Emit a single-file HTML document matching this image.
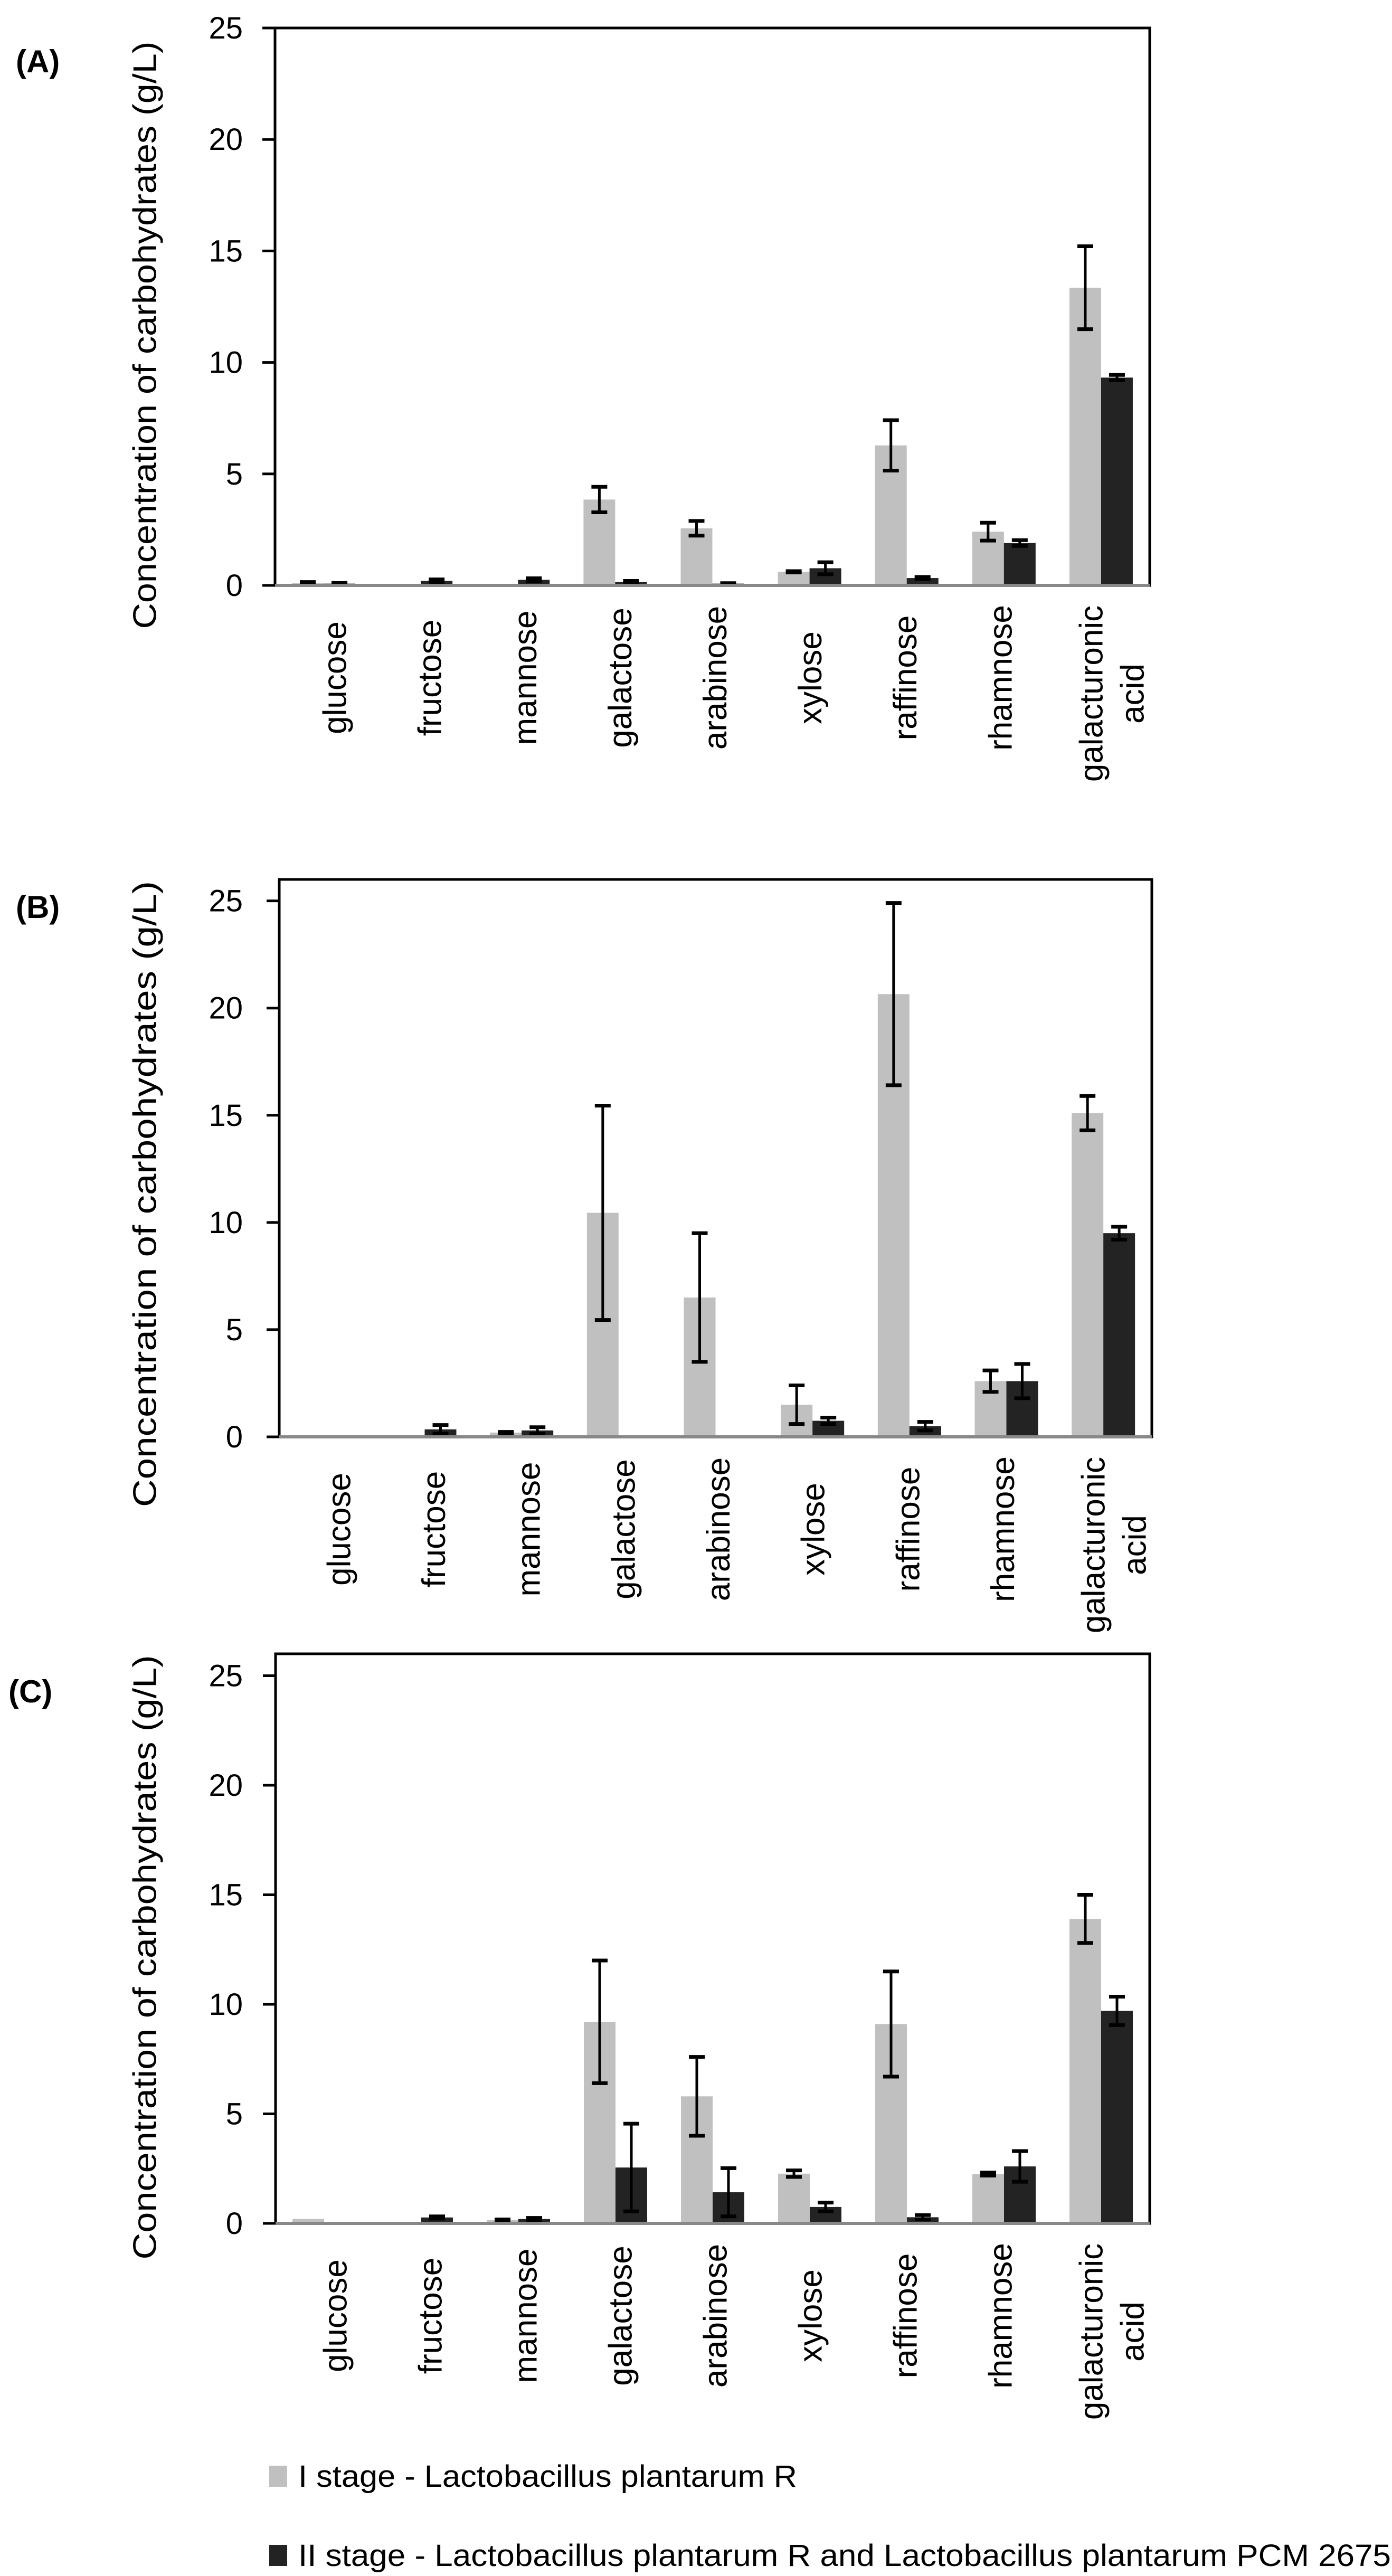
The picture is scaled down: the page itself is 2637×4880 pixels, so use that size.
<!DOCTYPE html>
<html><head><meta charset="utf-8"><style>
html,body{margin:0;padding:0;background:#fff;}
svg{display:block;font-family:"Liberation Sans",Arial,sans-serif;}
</style></head><body>
<svg id="fig" width="2637" height="4880" viewBox="0 0 2637 4880" xmlns="http://www.w3.org/2000/svg"></svg>
<script>
const categories = ["glucose","fructose","mannose","galactose","arabinose","xylose","raffinose","rhamnose","galacturonic acid"];
const yTicks = [0,5,10,15,20,25];
// Panel A
const aStage1 = [0.10,0,0,3.85,2.56,0.61,6.28,2.41,13.35];
const aStage1Err = [0.05,0,0,0.57,0.33,0.03,1.13,0.40,1.86];
const aStage2 = [0.08,0.20,0.25,0.15,0.08,0.77,0.33,1.90,9.32];
const aStage2Err = [0.03,0.07,0.07,0.05,0.02,0.27,0.05,0.13,0.12];
// Panel B
const bStage1 = [0.05,0.05,0.20,10.45,6.5,1.5,20.65,2.6,15.1];
const bStage1Err = [0,0,0.03,5.0,3.0,0.9,4.25,0.5,0.8];
const bStage2 = [0.05,0.35,0.30,0,0,0.75,0.50,2.6,9.5];
const bStage2Err = [0,0.2,0.15,0,0,0.15,0.2,0.8,0.3];
// Panel C
const cStage1 = [0.2,0,0.15,9.2,5.8,2.27,9.1,2.25,13.9];
const cStage1Err = [0,0,0.03,2.8,1.8,0.15,2.4,0.07,1.1];
const cStage2 = [0.05,0.27,0.2,2.55,1.42,0.75,0.28,2.6,9.7];
const cStage2Err = [0,0.05,0.05,2.0,1.1,0.2,0.1,0.7,0.65];
const legendLabels = ["I stage - Lactobacillus plantarum R","II stage - Lactobacillus plantarum R and Lactobacillus plantarum PCM 2675"];

const NS="http://www.w3.org/2000/svg";
const svg=document.getElementById('fig');
function el(tag,attrs,parent,text){const e=document.createElementNS(NS,tag);for(const k in attrs)e.setAttribute(k,attrs[k]);if(text!==undefined)e.textContent=text;(parent||svg).appendChild(e);return e;}

const panels=[
 {id:"a",label:"(A)",lx:30,ly:137,left:521,right:2178,top:53,zero:1109,max:25,s1:aStage1,e1:aStage1Err,s2:aStage2,e2:aStage2Err,tcx:275,tcy:635,tlen:1113},
 {id:"b",label:"(B)",lx:30,ly:1739,left:529,right:2182,top:1666,zero:2722,max:26,s1:bStage1,e1:bStage1Err,s2:bStage2,e2:bStage2Err,tcx:275,tcy:2262,tlen:1186},
 {id:"c",label:"(C)",lx:16,ly:3225,left:522,right:2178,top:3133,zero:4212,max:26,s1:cStage1,e1:cStage1Err,s2:cStage2,e2:cStage2Err,tcx:275,tcy:3708,tlen:1145}
];

panels.forEach(p=>{
  const g=el('g',{});
  
  
  const y=v=>p.zero-(v/p.max)*(p.zero-p.top);
  const bw=(p.right-p.left)/categories.length;
  const xc=i=>p.left+bw*(i+0.5);
  const pl=el('text',{x:p.lx,y:p.ly,'font-size':60,'font-weight':'bold',fill:'#000'},g,p.label);
  
  
  const fr=el('rect',{x:p.left,y:p.top,width:p.right-p.left,height:p.zero-p.top,fill:'none',stroke:'#000','stroke-width':5},g);
  
  
  yTicks.forEach(t=>{
    const ty=y(t);
    const tk=el('line',{x1:p.left-24,x2:p.left,y1:ty,y2:ty,stroke:'#000','stroke-width':5},g);
    
    
    const tl=el('text',{x:460,y:ty+20,'font-size':58,'text-anchor':'end',fill:'#000'},g,String(t));
    
    
  });
  const series=[[p.s1,p.e1,'#c0c0c0',-1],[p.s2,p.e2,'#232323',0]];
  series.forEach((s,si)=>{
    categories.forEach((c,i)=>{
      const v=s[0][i];
      const x0=xc(i)+s[3]*60;
      if(v>0){
        const r=el('rect',{x:x0,y:y(v),width:60,height:p.zero-y(v),fill:s[2]},g);
        
        
      }
      const e=s[1][i];
      if(e>0 && v>0){
        const cx=x0+30, yt=y(v+e), yb=y(Math.max(0,v-e));
        const eg=el('g',{stroke:'#000'},g);
        
        
        el('line',{x1:cx,x2:cx,y1:yt,y2:yb,'stroke-width':5},eg);
        el('line',{x1:cx-15,x2:cx+15,y1:yt,y2:yt,'stroke-width':7},eg);
        el('line',{x1:cx-15,x2:cx+15,y1:yb,y2:yb,'stroke-width':7},eg);
      }
    });
  });
  const xa=el('line',{x1:p.left,x2:p.right,y1:p.zero,y2:p.zero,stroke:'#888','stroke-width':6},g);
  
  
  categories.forEach((c,i)=>{
    const words=c.split(' ');
    if(words.length===1){
      const lx=xc(i)+22-i*4, ly=p.zero+175;
      const t=el('text',{x:lx,y:ly,'font-size':62,'text-anchor':'middle','dominant-baseline':'central',transform:`rotate(-90 ${lx} ${ly})`,fill:'#000'},g,c);
      
      
    } else {
      const ly=p.zero+205;
      [[words[0],-18],[words[1],60]].forEach(w=>{
        const lx=xc(i)+w[1];
        const t=el('text',{x:lx,y:ly,'font-size':62,'text-anchor':'middle','dominant-baseline':'central',transform:`rotate(-90 ${lx} ${ly})`,fill:'#000'},g,w[0]);
        
        
      });
    }
  });
  const yt=el('text',{x:p.tcx,y:p.tcy,'font-size':62,'text-anchor':'middle','dominant-baseline':'central',textLength:p.tlen,lengthAdjust:'spacingAndGlyphs',transform:`rotate(-90 ${p.tcx} ${p.tcy})`,fill:'#000'},g,'Concentration of carbohydrates (g/L)');
  
  
});

const lg=el('g',{});


[[4671,'#c0c0c0',945],[4821,'#232323',2070]].forEach((d,i)=>{
  const sw=el('rect',{x:510,y:d[0],width:34,height:40,fill:d[1]},lg);
  
  
  const t=el('text',{x:565,y:d[0]+40,'font-size':58,textLength:d[2],lengthAdjust:'spacingAndGlyphs',fill:'#000'},lg,legendLabels[i]);
  
  
});
</script>
</body></html>
